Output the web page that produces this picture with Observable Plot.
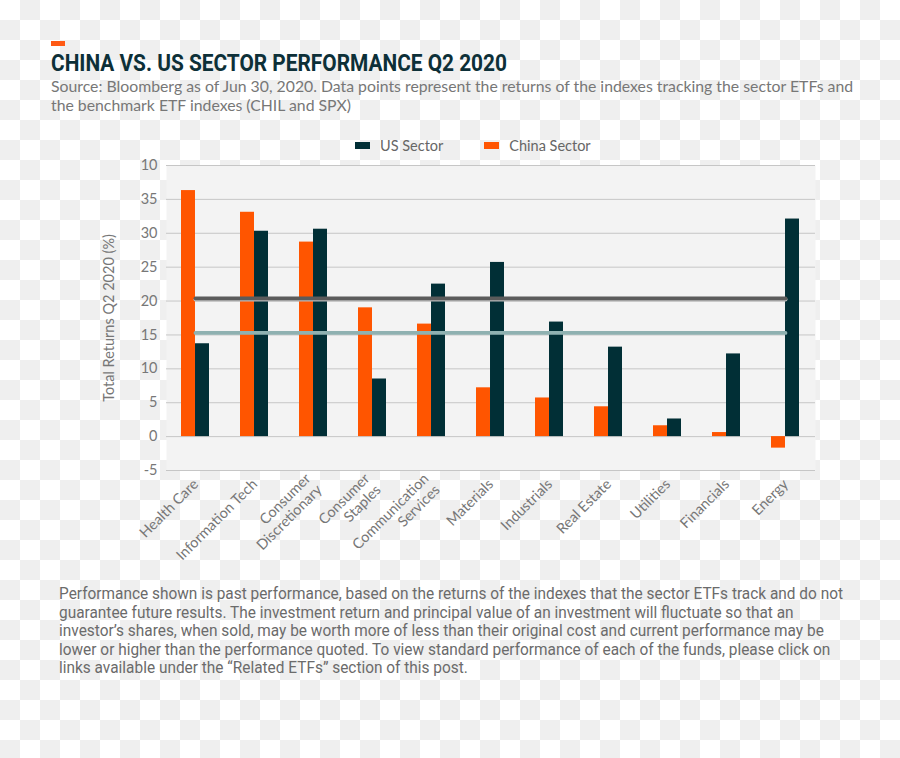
<!DOCTYPE html>
<html><head><meta charset="utf-8">
<script src="https://cdn.jsdelivr.net/npm/d3@7"></script>
<script src="https://cdn.jsdelivr.net/npm/@observablehq/plot@0.6"></script>
<style>
body{margin:0;width:900px;height:758px;position:relative;overflow:hidden;
  background:repeating-conic-gradient(#efefef 0 25%, #ffffff 0 50%) 0 0/40px 40px;}
.abs{position:absolute;}
#mark{left:51px;top:41px;width:14px;height:5px;background:#ff5a14;}
#title{left:51px;top:50px;font-family:Roboto,sans-serif;font-weight:700;font-size:23px;color:#0d3038;white-space:nowrap;transform-origin:0 0;}
#sub{left:51px;top:76px;width:820px;font-family:Lato,sans-serif;font-size:15.8px;line-height:19px;color:#777;}
#legend{left:355px;top:137px;font-family:Lato,sans-serif;font-size:14.5px;color:#666;display:flex;align-items:center;white-space:nowrap;}
.sw{display:inline-block;width:15px;height:7px;margin-right:10px;}
#chart{left:0;top:155px;}
#foot{left:59px;top:585px;font-family:Roboto,sans-serif;font-size:16.5px;line-height:18.6px;color:#6b6b6b;transform-origin:0 0;}
#foot div{white-space:nowrap;}
</style></head>
<body>
<div id="mark" class="abs"></div>
<div id="title" class="abs"></div>
<div id="sub" class="abs"></div>
<div id="legend" class="abs"></div>
<div id="chart" class="abs"></div>
<div id="foot" class="abs"></div>
<script>
const titleText = "CHINA VS. US SECTOR PERFORMANCE Q2 2020";
const subtitleText = "Source: Bloomberg as of Jun 30, 2020. Data points represent the returns of the indexes tracking the sector ETFs and the benchmark ETF indexes (CHIL and SPX)";
const footLines = [
  "Performance shown is past performance, based on the returns of the indexes that the sector ETFs track and do not",
  "guarantee future results. The investment return and principal value of an investment will fluctuate so that an",
  "investor\u2019s shares, when sold, may be worth more of less than their original cost and current performance may be",
  "lower or higher than the performance quoted. To view standard performance of each of the funds, please click on",
  "links available under the \u201cRelated ETFs\u201d section of this post."
];
const yLabel = "Total Returns Q2 2020 (%)";

const sectors = ["Health Care","Information Tech","Consumer\nDiscretionary","Consumer\nStaples","Communication\nServices","Materials","Industrials","Real Estate","Utilities","Financials","Energy"];
const chinaValues = [36.3,33.1,28.7,19.0,16.6,7.2,5.7,4.4,1.6,0.6,-1.7];
const usValues = [13.7,30.3,30.6,8.5,22.5,25.7,16.9,13.2,2.6,12.2,32.1];
const seriesNames = ["US Sector","China Sector"];
const seriesColors = ["#012f36","#ff5500"];
const benchmarkNames = ["SPX","CHIL"];
const benchmarkValues = [20.4,15.3];
const benchmarkColors = ["#5b5b5b","#8fb1b1"];
const yTicks = [-5,0,5,10,15,20,25,30,35,40];
const yTickLabels = ["-5","0","5","10","15","20","25","30","35","10"];

const titleEl = document.getElementById("title");
titleEl.textContent = titleText;
titleEl.style.transform = `scaleX(${456/titleEl.getBoundingClientRect().width})`;
document.getElementById("sub").textContent = subtitleText;
const foot = document.getElementById("foot");
footLines.forEach(l=>{const d=document.createElement("div");d.textContent=l;foot.appendChild(d);});
foot.style.transform = `scaleX(${784/foot.firstChild.getBoundingClientRect().width})`;
const lg = document.getElementById("legend");
seriesNames.forEach((n,i)=>{
  const s=document.createElement("span");s.className="sw";s.style.background=seriesColors[i];
  const t=document.createElement("span");t.textContent=n;t.style.marginRight=i===0?"41px":"0";
  lg.appendChild(s);lg.appendChild(t);
});

const W=900, H=430, ML=166, MR=85, MT=10, MB=115;
const padIn=0.525;
const bandW=(W-ML-MR)/sectors.length*(1-padIn);
const china = sectors.map((s,i)=>({sector:s,value:chinaValues[i]}));
const us = sectors.map((s,i)=>({sector:s,value:usValues[i]}));
const bench = benchmarkNames.flatMap((b,i)=>[
  {name:b,sector:sectors[0],value:benchmarkValues[i]},
  {name:b,sector:sectors[sectors.length-1],value:benchmarkValues[i]}]);

const chart = Plot.plot({
  width:W,height:H,marginTop:MT,marginBottom:MB,marginLeft:ML,marginRight:MR,
  style:{background:"transparent",fontFamily:"Lato, sans-serif",fontSize:"14px",color:"#777",overflow:"visible"},
  x:{domain:sectors,paddingInner:padIn,paddingOuter:padIn/2,axis:null},
  y:{domain:[-5,40],axis:null},
  marks:[
    Plot.frame({fill:"#f3f3f3"}),
    Plot.gridY(yTicks,{stroke:"#c6c6c6",strokeOpacity:1}),
    Plot.axisY({ticks:yTicks,tickSize:0,tickPadding:9,tickFormat:d=>yTickLabels[yTicks.indexOf(d)],label:null,fill:"#777",fontSize:14.5}),
    Plot.axisX({tickSize:0,tickRotate:-45,tickPadding:11,label:null,fill:"#777",fontSize:14.5,lineHeight:1.1}),
    Plot.text([yLabel],{frameAnchor:"left",dx:-57,rotate:-90,textAnchor:"middle",fill:"#777",fontSize:14.5}),
    Plot.barY(china,{x:"sector",y:"value",fill:seriesColors[1],insetRight:bandW/2}),
    Plot.barY(us,{x:"sector",y:"value",fill:seriesColors[0],insetLeft:bandW/2}),
    Plot.lineY(bench.filter(d=>d.name===benchmarkNames[0]),{x:"sector",y:"value",stroke:"#b8b8b8",strokeWidth:4,dy:1.2,strokeLinecap:"round"}),
    Plot.lineY(bench,{x:"sector",y:"value",z:"name",stroke:d=>benchmarkColors[benchmarkNames.indexOf(d.name)],strokeWidth:3.8,strokeLinecap:"round"})
  ]
});
document.getElementById("chart").appendChild(chart);
</script>
</body></html>
